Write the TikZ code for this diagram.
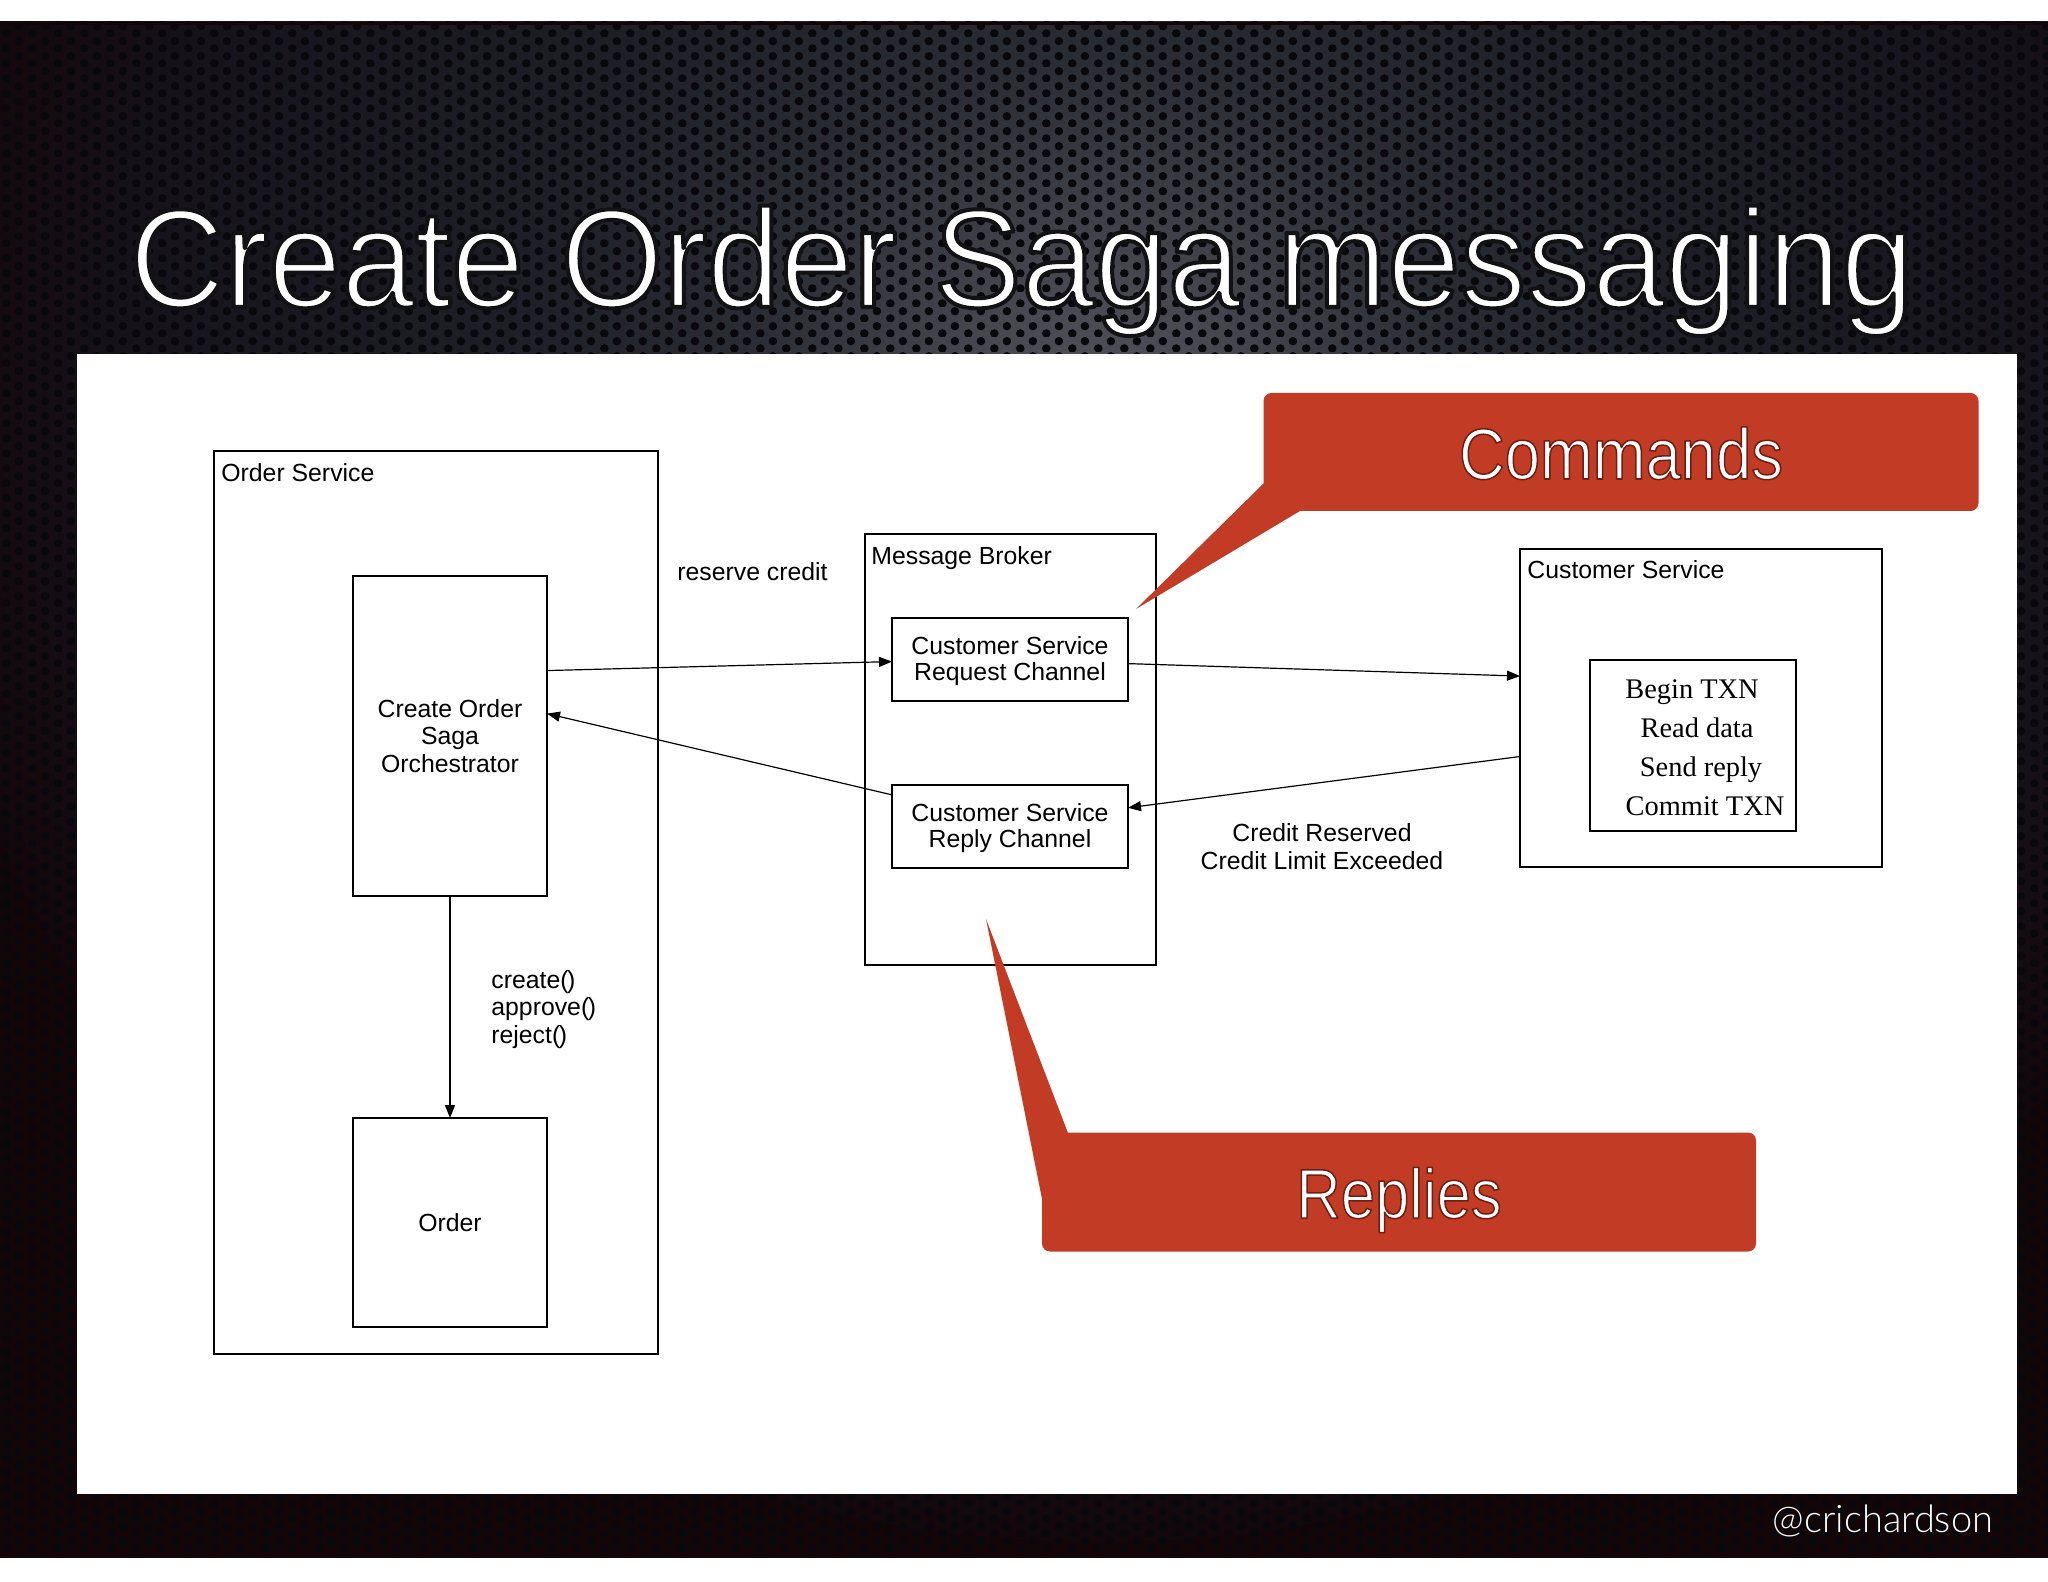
\documentclass[tikz,border=0pt]{standalone}
\usepackage{fontspec}
\setmainfont{Liberation Sans}
\newfontfamily\lightf{Lato Light}
\newfontfamily\serf{Liberation Serif}
\newfontfamily\narrowf[FakeStretch=0.94]{Liberation Sans}
\newfontfamily\calloutf[FakeStretch=0.88]{Liberation Sans}
\usetikzlibrary{arrows.meta,patterns}
\pgfdeclarepatternformonly{holes}{\pgfqpoint{0pt}{0pt}}{\pgfqpoint{12.8pt}{7.6pt}}{\pgfqpoint{12.8pt}{7.6pt}}{%
  \pgfpathcircle{\pgfqpoint{3.2pt}{1.9pt}}{2.2pt}%
  \pgfpathcircle{\pgfqpoint{9.6pt}{5.7pt}}{2.2pt}%
  \pgfusepath{fill}}
\definecolor{glowa}{RGB}{80,81,88}
\definecolor{glowb}{RGB}{72,73,80}
\definecolor{glowc}{RGB}{42,44,51}
\definecolor{glowd}{RGB}{30,31,38}
\definecolor{glowe}{RGB}{22,19,27}
\definecolor{webdark}{RGB}{18,6,9}
\pgfdeclareradialshading{webglow}{\pgfpointorigin}{%
  color(0bp)=(glowa);
  color(2.5bp)=(glowb);
  color(7.5bp)=(glowc);
  color(12.5bp)=(glowd);
  color(20bp)=(glowe);
  color(25bp)=(webdark);
  color(50bp)=(webdark)}
\definecolor{holecol}{HTML}{09080C}
\definecolor{calloutred}{HTML}{C23B24}
% thin a heavy face: fill plus an outline in the colour behind it
\newcommand{\thinon}[2]{\special{pdf:code 2 Tr #1 w 1 j #2 RG}}
\newcommand{\thinoff}{\special{pdf:code 0 Tr 0 w}}
\newcommand{\calloutlabel}[2]{\raisebox{#1}[0pt][0pt]{\thinon{0.75}{0.43 0.12 0.08}#2\thinoff}}
\tikzset{
  box/.style={draw=black,line width=0.6pt,inner sep=0pt,outer sep=0pt,align=center,font=\fontsize{12.4}{13.7}\selectfont},
  lbl/.style={inner sep=0pt,align=left,anchor=west,text=black,font=\fontsize{12.4}{13.7}\selectfont},
  txn/.style={inner sep=0pt,anchor=base,text=black,font=\serf\fontsize{14.2}{15}\selectfont},
  conn/.style={draw=black,line width=0.6pt,-{Triangle[length=6.5pt,width=5pt]}},
  callout/.style={fill=calloutred,rounded corners=4pt,inner sep=0pt,outer sep=0pt,text=white},
  tail/.style={fill=calloutred},
}
\begin{document}
\begin{tikzpicture}[x=0.5pt,y=-0.5pt]
\useasboundingbox (0,0) rectangle (2048,1582);
\fill[white] (0,0) rectangle (2048,1582);
% perforated backdrop
\begin{scope}
\clip (0,22) rectangle (2048,1558);
\fill[webdark] (0,22) rectangle (2048,1558);
\shade[shading=webglow] (1100,400) ellipse [x radius=1200,y radius=1150];
\fill[pattern=holes,pattern color=holecol] (0,22) rectangle (2048,1558);
\end{scope}
\fill[webdark] (0,22) rectangle (2048,25);
\fill[webdark] (0,1554) rectangle (2048,1558);
\fill[white] (0,1558) rectangle (2048,1582);
% panel
\fill[white] (77,354) rectangle (2017,1494);
% title and signature
\node[anchor=base west,inner sep=0pt,text=white,font=\narrowf\fontsize{70}{80}\selectfont] (title) at (129,307) {\thinon{2}{0.07 0.07 0.08}Create Order Saga messaging\thinoff};
\node[inner sep=0pt,text=white,font=\lightf\fontsize{19}{22}\selectfont] (sig) at (1883,1521) {@crichardson};
% boxes
\node[box,minimum width=222pt,minimum height=451.5pt] (orderservice) at (436,902.5) {};
\node[box,minimum width=97pt,minimum height=160pt] (orch) at (450,736) {Create Order\\Saga\\Orchestrator};
\node[box,minimum width=97pt,minimum height=104.5pt] (order) at (450,1222.5) {Order};
\node[box,minimum width=145.5pt,minimum height=215.5pt] (broker) at (1010.5,749.5) {};
\node[box,minimum width=118pt,minimum height=41.5pt] (req) at (1010,659.5) {\raisebox{-1.3pt}[\height][\depth]{\begin{tabular}{@{}c@{}}Customer Service\\[-0.4pt]Request Channel\end{tabular}}};
\node[box,minimum width=118pt,minimum height=41.5pt] (rep) at (1010,826.5) {\raisebox{-1.3pt}[\height][\depth]{\begin{tabular}{@{}c@{}}Customer Service\\[-0.4pt]Reply Channel\end{tabular}}};
\node[box,minimum width=181pt,minimum height=159pt] (cust) at (1701,708) {};
\node[box,minimum width=103pt,minimum height=85.5pt] (txnbox) at (1693,745.5) {};
\node[txn] (t1) at (1692,698) {Begin TXN};
\node[txn] (t2) at (1697,737) {Read data};
\node[txn] (t3) at (1701,776) {Send reply};
\node[txn] (t4) at (1705,815) {Commit TXN};
% labels
\node[lbl] (l1) at (221,473) {Order Service};
\node[lbl] (l2) at (871,558.5) {Message Broker};
\node[lbl] (l3) at (1527,570) {Customer Service};
\node[lbl] (l4) at (677,572) {reserve credit};
\node[lbl] (l5) at (491,1009.5) {create(\kern-0.7pt)\\approve(\kern-0.7pt)\\reject(\kern-0.7pt)};
\node[lbl,anchor=center,align=center] (l6) at (1322,846.5) {Credit Reserved\\Credit Limit Exceeded};
% connectors
\draw[conn] (orch.34.2) -- (req.181.5);
\draw[conn] (req.-2) -- (cust.170.5);
\draw[conn] (cust.195.3) -- (rep.9.4);
\draw[conn] (rep.165) -- (orch.13.9);
\draw[conn] (orch.south) -- (order.north);
% callouts
\coordinate (ctip) at (1136,609);
\coordinate (rtip) at (986,919);
\fill[tail] (ctip) -- (1264,483) -- (1300,483) -- (1300,511) -- cycle;
\fill[tail] (rtip) -- (1068,1133) -- (1068,1199) -- (1042,1199) -- cycle;
\node[callout,minimum width=357.5pt,minimum height=59pt,font=\calloutf\fontsize{36}{40}\selectfont] (commands) at (1621,452) {\calloutlabel{-13.5pt}{Commands}};
\node[callout,minimum width=357pt,minimum height=59.5pt,font=\calloutf\fontsize{35}{40}\selectfont] (replies) at (1399,1192) {\calloutlabel{-13pt}{Replies}};
\end{tikzpicture}
\end{document}
